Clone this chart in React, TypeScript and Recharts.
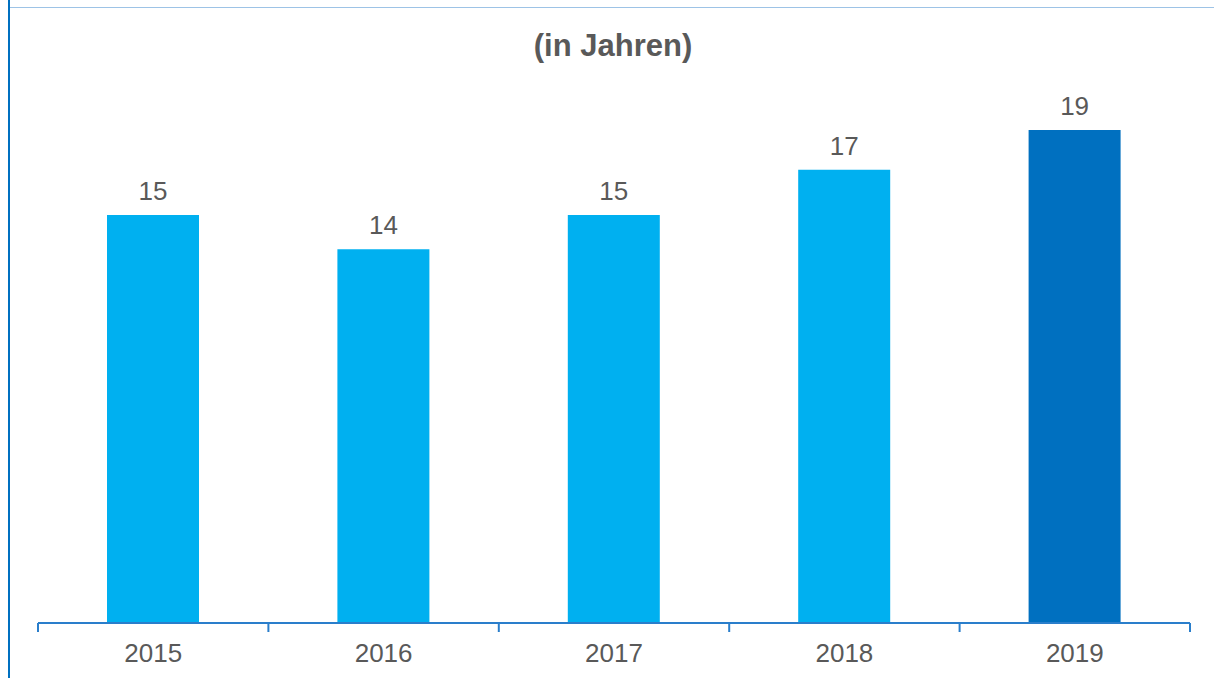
import React from 'react';
import { BarChart, Bar, XAxis, YAxis, Cell, LabelList } from 'recharts';

const years = ['2015', '2016', '2017', '2018', '2019'];
const values = [15.4, 14.1, 15.4, 17.1, 18.6];
const barColors = ['#00B0F0', '#00B0F0', '#00B0F0', '#00B0F0', '#0070C0'];
const title = '(in Jahren)';

const data = years.map((year, i) => ({ year, value: values[i] }));

const FONT = 'Arial, "Liberation Sans", sans-serif';
const GREY = '#595959';
const AXIS = '#2A7ECB';

const YearTick = (props: any) => {
  const { x, y, payload, index, visibleTicksCount } = props;
  const half = payload && typeof payload.offset === 'number' ? payload.offset : 0;
  const isLast = index === (visibleTicksCount ?? years.length) - 1;
  return (
    <g>
      <line x1={x - half} x2={x - half} y1={y} y2={y + 9} stroke={AXIS} strokeWidth={2} />
      {isLast && <line x1={x + half} x2={x + half} y1={y} y2={y + 9} stroke={AXIS} strokeWidth={2} />}
      <text x={x} y={y + 39} textAnchor="middle" fill={GREY} fontSize={26} fontFamily={FONT}>
        {payload.value}
      </text>
    </g>
  );
};

export default function App() {
  return (
    <div style={{ position: 'absolute', left: 0, top: 0, width: 1214, height: 678, background: '#fff', fontFamily: FONT }}>
      <div style={{ position: 'absolute', left: 8, top: 0, width: 2, height: 678, background: '#0070C0' }} />
      <div style={{ position: 'absolute', left: 10, top: 7, width: 1204, height: 1, background: '#9DC3E6' }} />
      <div
        style={{
          position: 'absolute',
          left: 0,
          top: 31,
          width: 1226,
          textAlign: 'center',
          fontSize: 31,
          lineHeight: '30px',
          fontWeight: 'bold',
          color: GREY,
        }}
      >
        {title}
      </div>
      <div style={{ position: 'absolute', left: 0, top: 0 }}>
        <BarChart
          width={1214}
          height={678}
          data={data}
          margin={{ top: 93, right: 24, bottom: 0, left: 38 }}
        >
          <YAxis hide domain={[0, 20]} width={0} />
          <XAxis
            dataKey="year"
            height={55}
            axisLine={{ stroke: AXIS, strokeWidth: 2 }}
            tickLine={false}
            tickSize={0}
            tickMargin={0}
            interval={0}
            tick={<YearTick />}
          />
          <Bar dataKey="value" barSize={92} isAnimationActive={false}>
            {data.map((d, i) => (
              <Cell key={d.year} fill={barColors[i]} />
            ))}
            <LabelList
              dataKey="value"
              position="top"
              offset={15}
              formatter={(v: number) => Math.round(v)}
              style={{ fill: GREY, fontSize: 26, fontFamily: FONT }}
            />
          </Bar>
        </BarChart>
      </div>
    </div>
  );
}
